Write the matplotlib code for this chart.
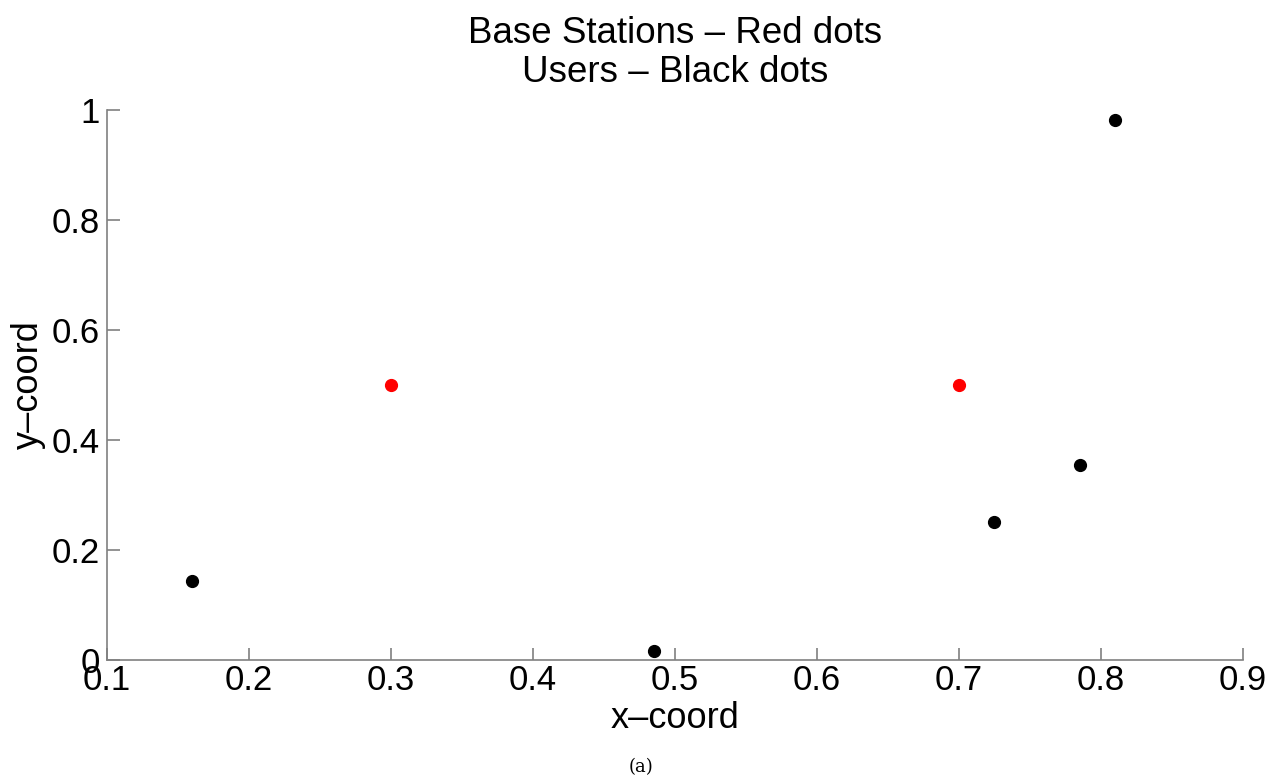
import matplotlib
matplotlib.use("Agg")
import matplotlib.pyplot as plt

# user positions (black) and base stations (red)
user_x = [0.16, 0.485, 0.725, 0.785, 0.81]
user_y = [0.143, 0.017, 0.25, 0.355, 0.982]
bs_x = [0.3, 0.7]
bs_y = [0.5, 0.5]

xticks = [0.1, 0.2, 0.3, 0.4, 0.5, 0.6, 0.7, 0.8, 0.9]
xticklabels = ["0.1", "0.2", "0.3", "0.4", "0.5", "0.6", "0.7", "0.8", "0.9"]
yticks = [0, 0.2, 0.4, 0.6, 0.8, 1]
yticklabels = ["0", "0.2", "0.4", "0.6", "0.8", "1"]

plt.rcParams['font.family'] = ['Liberation Sans', 'DejaVu Sans']

fig = plt.figure(figsize=(12.83, 7.84), dpi=100)
ax = fig.add_axes([0.0834, 0.1582, 0.8854, 0.7015])

ax.plot(user_x, user_y, 'o', color='black', markersize=8.5, linestyle='none')
ax.plot(bs_x, bs_y, 'o', color='red', markersize=8.5, linestyle='none')

ax.set_xlim(0.1, 0.9)
ax.set_ylim(0, 1)
ax.set_xticks(xticks)
ax.set_xticklabels(xticklabels)
ax.set_yticks(yticks)
ax.set_yticklabels(yticklabels)

for side in ['top', 'right']:
    ax.spines[side].set_visible(False)
for side in ['left', 'bottom']:
    ax.spines[side].set_color('#808080')
    ax.spines[side].set_linewidth(1.2)

ax.tick_params(direction='in', length=9, width=1.2, color='#808080',
               labelsize=25, labelcolor='black')
ax.tick_params(axis='x', pad=3)
ax.tick_params(axis='y', pad=5)

ax.set_xlabel('x–coord', fontsize=26, labelpad=3)
ax.set_ylabel('y–coord', fontsize=26, labelpad=4)
ax.set_title('Base Stations – Red dots\nUsers – Black dots', fontsize=26.5,
             pad=20, linespacing=1.15)

fig.text(0.5, 0.022, '(a)', fontsize=13, family='DejaVu Serif',
         ha='center', va='center')

fig.savefig('out.png', dpi=100)
